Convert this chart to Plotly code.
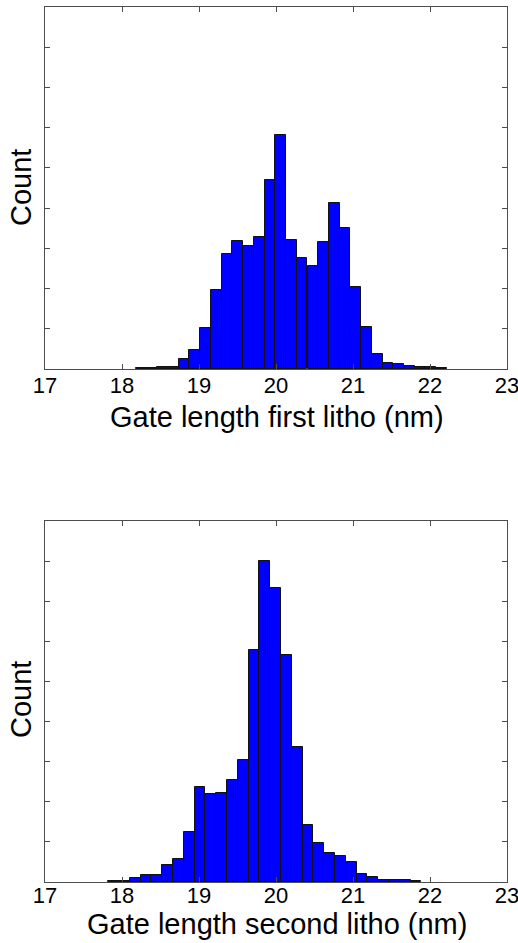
import plotly.graph_objects as go

# ---- data ----
first_bin_centers = [18.250, 18.389, 18.528, 18.667, 18.807, 18.946, 19.085, 19.225,
                     19.364, 19.503, 19.643, 19.782, 19.921, 20.061, 20.200, 20.339,
                     20.479, 20.618, 20.757, 20.897, 21.036, 21.175, 21.315, 21.454,
                     21.593, 21.732, 21.872, 22.011, 22.150]
first_counts = [2, 3, 5, 5, 24, 47, 101, 197, 285, 319, 307, 329, 470, 581, 321, 276,
                255, 317, 412, 350, 203, 105, 37, 15, 12, 8, 6, 4, 2]
first_bin_width = 0.1393

second_bin_centers = [17.890, 18.030, 18.171, 18.311, 18.451, 18.592, 18.732, 18.872,
                      19.012, 19.153, 19.293, 19.433, 19.574, 19.714, 19.854, 19.995,
                      20.135, 20.275, 20.415, 20.556, 20.696, 20.836, 20.977, 21.117,
                      21.257, 21.398, 21.538, 21.678, 21.819]
second_counts = [3, 3, 11, 17, 17, 43, 57, 125, 236, 220, 221, 254, 304, 578, 800, 734,
                 565, 336, 142, 96, 72, 66, 51, 20, 12, 6, 4, 4, 2]
second_bin_width = 0.1403

x_ticks = [17, 18, 19, 20, 21, 22, 23]
x_title_first = "Gate length first litho (nm)"
x_title_second = "Gate length second litho (nm)"
y_title = "Count"

# ---- figure ----
W, H = 518, 943
ml, mr, mt, mb = 45, 11, 7, 61
ph = H - mt - mb
top_dom = [(882 - 369) / ph, 1.0]
bot_dom = [0.0, (882 - 521) / ph]

FONT = "Liberation Sans, Arial, sans-serif"
AX = "#4d4d4d"

fig = go.Figure()
fig.add_trace(go.Bar(x=first_bin_centers, y=first_counts, width=first_bin_width,
                     marker=dict(color="#0000ff", line=dict(color="#111111", width=1)),
                     xaxis="x", yaxis="y", showlegend=False))
fig.add_trace(go.Bar(x=second_bin_centers, y=second_counts, width=second_bin_width,
                     marker=dict(color="#0000ff", line=dict(color="#111111", width=1)),
                     xaxis="x2", yaxis="y2", showlegend=False))

xcommon = dict(range=[17, 23], tickvals=x_ticks, ticktext=[str(t) for t in x_ticks],
               ticks="inside", ticklen=5, tickcolor=AX, tickwidth=1,
               showline=True, linecolor=AX, linewidth=1, mirror="ticks",
               showgrid=False, zeroline=False, ticklabeloverflow="allow",
               tickfont=dict(family=FONT, size=22, color="black"))
ycommon = dict(range=[0, 900], dtick=100, showticklabels=False,
               ticks="inside", ticklen=5, tickcolor=AX, tickwidth=1,
               showline=True, linecolor=AX, linewidth=1, mirror="ticks",
               showgrid=False, zeroline=False)

fig.update_layout(
    width=W, height=H,
    margin=dict(l=ml, r=mr, t=mt, b=mb, autoexpand=False),
    paper_bgcolor="white", plot_bgcolor="white",
    bargap=0,
    xaxis=dict(domain=[0, 1], anchor="y", ticklabelstandoff=-3, **xcommon),
    yaxis=dict(domain=top_dom, anchor="x", **ycommon),
    xaxis2=dict(domain=[0, 1], anchor="y2", ticklabelstandoff=-6, **xcommon),
    yaxis2=dict(domain=bot_dom, anchor="x2", **ycommon),
    font=dict(family=FONT, color="black"),
)

def py(pix):
    return (H - mb - pix) / ph

def px(pix):
    return (pix - ml) / (W - ml - mr)

ann = [
    dict(text=x_title_first, x=px(277), y=py(417)),
    dict(text=x_title_second, x=px(277), y=py(924)),
    dict(text=y_title, x=px(21), y=py(188), textangle=-90),
    dict(text=y_title, x=px(21), y=py(700), textangle=-90),
]
for a in ann:
    fig.add_annotation(xref="paper", yref="paper", showarrow=False,
                       xanchor="center", yanchor="middle",
                       font=dict(family=FONT, size=29, color="black"), **a)

fig.write_html("out.html", config={"displayModeBar": False},
               post_script="document.body.style.margin='0';document.body.style.overflow='hidden';")
